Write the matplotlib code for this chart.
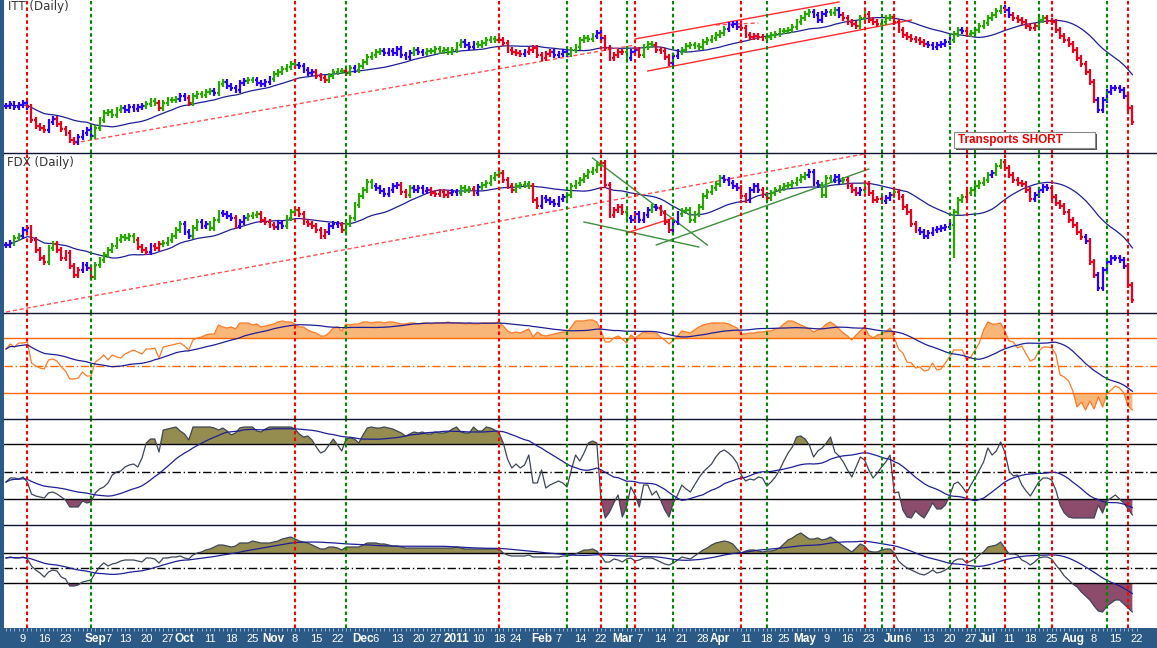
import numpy as np
import pandas as pd
import matplotlib
matplotlib.use("Agg")
from matplotlib import pyplot as plt
from matplotlib.collections import LineCollection
from matplotlib.patches import Rectangle
from matplotlib.lines import Line2D

# trading calendar (Aug 2010 - Aug 2011)
holidays = ["2010-09-06", "2010-11-25", "2010-12-24", "2011-01-17",
            "2011-02-21", "2011-04-22", "2011-05-30", "2011-07-04"]
days = pd.bdate_range("2010-08-03", "2011-08-22", freq="C", holidays=holidays)
pos = {d.strftime("%Y-%m-%d"): i for i, d in enumerate(days)}

# ITT closes (arbitrary units)
itt = [54, 56, 53, 55, 57, 53, 40, 34, 32, 30,
       38, 41, 36, 31, 27, 20, 18, 23, 27, 30,
       24, 32, 40, 47, 48, 45, 50, 52, 50, 53,
       51, 53, 54, 56, 59, 57, 52, 57, 60, 60,
       61, 64, 62, 57, 64, 66, 65, 68, 69, 67,
       76, 78, 74, 72, 70, 77, 79, 80, 80, 77,
       76, 78, 81, 86, 88, 91, 93, 96, 95, 94,
       90, 87, 88, 84, 82, 80, 84, 88, 89, 89,
       87, 92, 90, 94, 98, 103, 105, 108, 109, 107,
       109, 107, 111, 105, 103, 107, 110, 108, 107, 109,
       109, 111, 109, 110, 108, 110, 115, 118, 115, 113,
       116, 115, 117, 120, 121, 120, 120, 117, 110, 108,
       107, 106, 108, 110, 112, 105, 102, 106, 108, 105,
       106, 108, 106, 110, 113, 120, 122, 121, 124, 127,
       122, 112, 102, 105, 108, 108, 102, 108, 110, 105,
       113, 116, 115, 110, 109, 103, 97, 104, 108, 110,
       114, 115, 114, 113, 118, 120, 122, 125, 127, 131,
       135, 136, 133, 132, 125, 123, 124, 123, 122, 123,
       125, 126, 129, 129, 130, 133, 138, 142, 146, 148,
       145, 140, 146, 148, 147, 150, 145, 142, 138, 136,
       134, 142, 146, 140, 138, 136, 138, 142, 143, 138,
       130, 125, 123, 121, 120, 118, 116, 115, 113, 115,
       116, 118, 120, 126, 130, 129, 126, 127, 130, 134,
       137, 142, 145, 149, 152, 150, 145, 142, 140, 138,
       134, 132, 134, 140, 142, 139, 138, 130, 124, 120,
       116, 110, 102, 96, 88, 78, 60, 50, 60, 68,
       72, 72, 70, 64, 52, 38]
itt_colors = ("bbbbbbrrrr" "bbrrrrrbbb" "bgggggggbb" "bbbgggrggg" "gbbrgggggb"
              "ggbbbbbggb" "bbbggggggb" "bbbrrrgggg" "rgbggggggb" "bbbbbbgbbg"
              "ggggggggbb" "bgggggrrrr" "rrbrrrrrrb" "bbbggggggb" "brrrrrgbbr"
              "gggrrrrbbg" "gggggggggg" "bbbrrrrrrg" "gggggggggg" "bbbbggbrrr"
              "rggrrrgggr" "rrrrrrrbbb" "bbbggbrggg" "gggggbbrrr" "rrrggrrrrr"
              "rrrrrrrbbb" "bbbbrr")

# FDX closes
fdx = [75, 77, 82, 84, 90, 92, 80, 70, 62, 58,
       72, 76, 70, 62, 67, 54, 45, 50, 55, 52,
       43, 55, 60, 65, 70, 74, 80, 83, 82, 84,
       80, 73, 70, 68, 74, 72, 76, 77, 80, 84,
       90, 96, 88, 84, 92, 98, 94, 96, 92, 100,
       107, 106, 104, 102, 94, 98, 102, 104, 105, 106,
       100, 98, 95, 93, 97, 94, 102, 108, 110, 106,
       98, 96, 94, 90, 84, 88, 94, 96, 95, 90,
       96, 102, 115, 124, 130, 138, 134, 132, 129, 126,
       130, 134, 135, 128, 125, 132, 130, 132, 129, 130,
       127, 126, 128, 125, 127, 128, 127, 132, 130, 131,
       127, 133, 135, 137, 142, 145, 147, 140, 134, 130,
       134, 135, 136, 134, 120, 114, 122, 120, 118, 116,
       121, 123, 125, 134, 137, 140, 144, 148, 150, 155,
       157, 135, 105, 110, 113, 108, 102, 100, 106, 100,
       105, 110, 113, 112, 107, 98, 90, 98, 106, 109,
       110, 100, 106, 113, 124, 128, 132, 136, 142, 140,
       137, 134, 132, 124, 120, 130, 134, 130, 125, 122,
       127, 130, 132, 134, 135, 137, 140, 143, 145, 148,
       137, 135, 125, 142, 140, 143, 139, 140, 134, 130,
       127, 130, 136, 127, 120, 121, 119, 122, 125, 128,
       123, 113, 108, 96, 90, 88, 84, 87, 90, 91,
       92, 93, 95, 108, 120, 123, 127, 130, 134, 137,
       140, 145, 147, 154, 158, 152, 145, 140, 137, 136,
       130, 121, 125, 130, 133, 132, 123, 117, 114, 108,
       100, 95, 88, 83, 79, 58, 45, 32, 50, 58,
       62, 62, 60, 54, 35, 20]
fdx_colors = ("bbggbbrrrr" "ggrrrrrrbb" "rggggggggg" "grrrbrrggg" "ggbbggbbgg"
              "gbbbrbbggg" "rrrrbbgggr" "rrrrrrbbbr" "gggggggbbb" "bbbrrgbbbb"
              "rrrrrbbggg" "rbgggggrrr" "ggggrrbbbb" "bbgggggggg" "grrrrrgbbb"
              "bbgbrrrbbg" "gggggggggb" "bbbrrbbbrr" "gggggggggb" "bbgggbbgrr"
              "rbgrrrrbbg" "rrrrrbbbbb" "bbbgggrggg" "ggbggrrrrr" "rrbbbbrrrr"
              "rrrrbrrbbb" "bbbbrr")
fdx_lows = {"2011-06-21": 62}

# indicator panes
rsi = [70, 75, 72, 76, 76, 77, 56, 53, 51, 50,
       59, 60, 58, 52, 48, 40, 40, 41, 47, 43,
       43, 57, 60, 64, 59, 64, 62, 61, 65, 67,
       69, 67, 65, 70, 70, 71, 61, 72, 73, 74,
       75, 76, 73, 69, 79, 81, 82, 84, 85, 85,
       94, 92, 91, 92, 90, 96, 96, 96, 94, 95,
       92, 93, 94, 95, 97, 98, 97, 97, 95, 92,
       92, 89, 87, 86, 83, 83, 86, 91, 92, 88,
       95, 94, 95, 95, 97, 97, 96, 97, 97, 96,
       97, 97, 96, 95, 95, 96, 96, 95, 96, 96,
       95, 96, 96, 96, 97, 96, 96, 96, 95, 96,
       95, 95, 96, 96, 96, 96, 97, 93, 88, 86,
       87, 86, 88, 90, 82, 87, 84, 83, 84, 85,
       86, 87, 87, 92, 98, 98, 98, 99, 99, 97,
       88, 77, 77, 81, 83, 80, 76, 84, 81, 84,
       87, 86, 86, 86, 82, 79, 75, 79, 83, 88,
       87, 86, 89, 92, 94, 95, 96, 96, 96, 96,
       95, 93, 91, 85, 85, 86, 86, 87, 87, 88,
       88, 90, 91, 95, 98, 98, 96, 94, 92, 90,
       87, 89, 91, 95, 97, 94, 90, 86, 83, 79,
       84, 88, 92, 84, 81, 84, 85, 87, 91, 81,
       70, 66, 57, 56, 51, 52, 48, 49, 56, 49,
       50, 56, 62, 69, 69, 69, 59, 62, 69, 76,
       89, 97, 95, 95, 96, 88, 78, 77, 71, 73,
       65, 58, 60, 68, 72, 72, 71, 65, 44, 42,
       38, 28, 12, 17, 9, 18, 10, 22, 12, 25,
       29, 33, 31, 26, 13, 9]
fast = [43, 47, 47, 46, 48, 43, 31, 29, 28, 27,
        32, 33, 31, 28, 25, 18, 18, 18, 24, 22,
        23, 32, 36, 38, 42, 50, 53, 54, 58, 60,
        61, 58, 67, 82, 86, 86, 73, 95, 96, 97,
        98, 94, 91, 85, 98, 98, 98, 98, 98, 97,
        95, 97, 94, 90, 92, 97, 98, 98, 98, 94,
        93, 96, 98, 98, 98, 98, 98, 98, 96, 91,
        88, 89, 85, 78, 72, 74, 80, 86, 80, 74,
        86, 87, 86, 82, 90, 97, 98, 97, 97, 98,
        97, 96, 94, 92, 89, 91, 93, 92, 93, 91,
        91, 93, 92, 92, 93, 96, 98, 93, 92, 92,
        98, 94, 94, 98, 97, 95, 92, 82, 66, 57,
        61, 57, 60, 70, 42, 42, 55, 37, 40, 42,
        44, 42, 38, 55, 70, 64, 72, 82, 84, 82,
        25, 7, 13, 22, 30, 8, 18, 38, 30, 18,
        40, 40, 30, 34, 25, 15, 8, 22, 30, 40,
        36, 33, 40, 47, 53, 57, 61, 68, 73, 75,
        72, 68, 62, 50, 44, 46, 45, 48, 47, 39,
        43, 48, 55, 64, 72, 78, 88, 89, 86, 80,
        68, 74, 77, 82, 88, 73, 69, 63, 55, 48,
        58, 68, 65, 55, 47, 52, 58, 63, 70, 32,
        33, 15, 8, 7, 14, 10, 7, 14, 22, 16,
        16, 20, 29, 41, 43, 38, 32, 40, 47, 55,
        63, 77, 70, 74, 83, 73, 54, 49, 50, 40,
        34, 29, 36, 43, 47, 47, 45, 35, 20, 12,
        8, 7, 7, 7, 7, 7, 7, 20, 12, 24,
        27, 30, 26, 22, 16, 10]
slow = [70, 71, 70, 70, 71, 69, 62, 58, 55, 51,
        56, 58, 57, 51, 49, 42, 42, 43, 46, 47,
        48, 55, 61, 65, 62, 64, 65, 67, 68, 68,
        68, 67, 66, 70, 70, 69, 65, 70, 70, 71,
        71, 72, 70, 69, 73, 75, 76, 78, 79, 81,
        83, 83, 82, 81, 82, 85, 85, 85, 87, 86,
        85, 85, 85, 86, 87, 89, 90, 91, 89, 87,
        86, 85, 83, 81, 79, 79, 81, 81, 80, 78,
        81, 81, 81, 81, 83, 85, 85, 85, 84, 84,
        83, 82, 82, 81, 80, 80, 80, 80, 80, 80,
        80, 80, 80, 80, 80, 80, 81, 80, 79, 79,
        79, 79, 79, 79, 79, 79, 79, 75, 73, 72,
        72, 72, 72, 73, 71, 71, 71, 71, 71, 71,
        71, 72, 72, 73, 74, 76, 78, 78, 79, 77,
        72, 66, 66, 69, 68, 66, 69, 70, 67, 68,
        70, 70, 70, 68, 66, 64, 63, 65, 68, 71,
        70, 69, 72, 75, 78, 80, 83, 85, 86, 87,
        86, 84, 79, 75, 77, 78, 78, 77, 76, 77,
        77, 78, 80, 84, 88, 90, 93, 95, 92, 89,
        89, 90, 88, 89, 91, 88, 85, 82, 79, 76,
        80, 84, 82, 77, 76, 76, 78, 79, 79, 75,
        67, 63, 60, 58, 56, 54, 53, 55, 58, 55,
        56, 58, 61, 67, 69, 69, 65, 67, 69, 73,
        76, 81, 82, 83, 86, 80, 74, 74, 73, 68,
        66, 63, 66, 70, 71, 71, 69, 63, 58, 52,
        48, 44, 41, 36, 32, 28, 22, 17, 16, 22,
        25, 28, 28, 24, 20, 16]

rsi_levels = (26, 53, 81)
fast_levels = (26, 53, 81)
slow_levels = (45, 60, 75)

red_events = ["2010-08-10", "2010-11-08", "2011-01-18", "2011-02-22", "2011-03-04",
              "2011-04-08", "2011-05-20", "2011-06-01", "2011-06-24", "2011-07-08",
              "2011-07-25", "2011-08-18"]
green_events = ["2010-08-31", "2010-11-24", "2011-02-09", "2011-03-02", "2011-03-17",
                "2011-04-18", "2011-05-26", "2011-06-20", "2011-06-28", "2011-07-20",
                "2011-08-11"]

# trend lines: (start date, value, end date, value, colour, style)
itt_lines = [("2010-08-25", 17, "2011-03-04", 115, "#ff5050", "dash"),
             ("2011-03-31", 135, "2011-04-14", 137, "#ff5050", "dash"),
             ("2011-03-04", 121, "2011-05-12", 158, "#ff2a2a", "solid"),
             ("2011-03-09", 89, "2011-06-07", 140, "#ff2a2a", "solid")]
fdx_lines = [("2010-08-03", 8, "2011-05-27", 170, "#ff5050", "dash"),
             ("2011-02-17", 162, "2011-03-29", 75, "#3d8f3d", "solid"),
             ("2011-02-15", 98, "2011-03-25", 73, "#3d8f3d", "solid"),
             ("2011-03-02", 87, "2011-03-17", 102, "#ff2a2a", "solid"),
             ("2011-03-11", 75, "2011-05-23", 151, "#3d8f3d", "solid")]

# date axis labels: (date, text, month start)
date_ticks = [("2010-08-09", "9", 0), ("2010-08-16", "16", 0), ("2010-08-23", "23", 0),
              ("2010-09-01", "Sep", 1), ("2010-09-07", "7", 0), ("2010-09-13", "13", 0),
              ("2010-09-20", "20", 0), ("2010-09-27", "27", 0), ("2010-10-01", "Oct", 1),
              ("2010-10-11", "11", 0), ("2010-10-18", "18", 0), ("2010-10-25", "25", 0),
              ("2010-11-01", "Nov", 1), ("2010-11-08", "8", 0), ("2010-11-15", "15", 0),
              ("2010-11-22", "22", 0), ("2010-12-01", "Dec", 1), ("2010-12-06", "6", 0),
              ("2010-12-13", "13", 0), ("2010-12-20", "20", 0), ("2010-12-27", "27", 0),
              ("2011-01-03", "2011", 1), ("2011-01-10", "10", 0), ("2011-01-18", "18", 0),
              ("2011-01-24", "24", 0), ("2011-02-01", "Feb", 1), ("2011-02-07", "7", 0),
              ("2011-02-14", "14", 0), ("2011-02-22", "22", 0), ("2011-03-01", "Mar", 1),
              ("2011-03-07", "7", 0), ("2011-03-14", "14", 0), ("2011-03-21", "21", 0),
              ("2011-03-28", "28", 0), ("2011-04-01", "Apr", 1), ("2011-04-11", "11", 0),
              ("2011-04-18", "18", 0), ("2011-04-25", "25", 0), ("2011-05-02", "May", 1),
              ("2011-05-09", "9", 0), ("2011-05-16", "16", 0), ("2011-05-23", "23", 0),
              ("2011-06-01", "Jun", 1), ("2011-06-06", "6", 0), ("2011-06-13", "13", 0),
              ("2011-06-20", "20", 0), ("2011-06-27", "27", 0), ("2011-07-01", "Jul", 1),
              ("2011-07-11", "11", 0), ("2011-07-18", "18", 0), ("2011-07-25", "25", 0),
              ("2011-08-01", "Aug", 1), ("2011-08-08", "8", 0), ("2011-08-15", "15", 0),
              ("2011-08-22", "22", 0)]

BAR_COL = {"g": "#26a800", "b": "#2a00ff", "r": "#e8001c"}
MA_COL = "#1e1e96"
STRIP = "#2c5a86"
W, H = 1157, 648
XLIM = (-0.47, 270.8)


def band(top, bottom):
    return [4 / W, 1 - bottom / H, 1 - 4 / W, (bottom - top) / H]


def draw_bars(ax, closes, codes, lows=None):
    c = np.asarray(closes, float)
    o = np.r_[c[0], c[:-1]]
    hi = np.maximum(o, c) + 3
    lo = np.minimum(o, c) - 3
    if lows:
        for d, v in lows.items():
            lo[pos[d]] = v
    segs, cols = [], []
    for i in range(len(c)):
        col = BAR_COL[codes[i]]
        segs += [[(i, lo[i]), (i, hi[i])], [(i - 0.45, o[i]), (i, o[i])],
                 [(i, c[i]), (i + 0.45, c[i])]]
        cols += [col] * 3
    ax.add_collection(LineCollection(segs, colors=cols, linewidths=1.6, zorder=4))
    ma = pd.Series(c).rolling(20, min_periods=1).mean()
    ax.plot(np.arange(len(c)), ma, color=MA_COL, lw=0.9, zorder=3)


def draw_trends(ax, lines):
    for d0, v0, d1, v1, col, style in lines:
        ls = (0, (3, 2)) if style == "dash" else "-"
        ax.plot([pos[d0], pos[d1]], [v0, v1], color=col, lw=1.0, ls=ls, zorder=3)


def draw_osc(ax, vals, levels, line_col, up_fill, dn_fill, level_col):
    v = np.asarray(vals, float)
    x = np.arange(len(v))
    lo, mid, up = levels
    for lv in (lo, up):
        ax.axhline(lv, color=level_col, lw=1.0, zorder=2)
    ax.axhline(mid, color=level_col, lw=1.0, ls=(0, (6, 2, 1, 2)), zorder=2)
    ax.fill_between(x, v, up, where=v > up, interpolate=True, color=up_fill, lw=0, zorder=1)
    ax.fill_between(x, v, lo, where=v < lo, interpolate=True, color=dn_fill, lw=0, zorder=1)
    ax.plot(x, v, color=line_col, lw=0.9, zorder=3)
    ma = pd.Series(v).rolling(20, min_periods=1).mean()
    ax.plot(x, ma, color=MA_COL, lw=0.9, zorder=3)


fig = plt.figure(figsize=(W / 100, H / 100), dpi=100, facecolor=STRIP)
ax_itt = fig.add_axes(band(0, 153))
ax_fdx = fig.add_axes(band(153, 313), sharex=ax_itt)
ax_rsi = fig.add_axes(band(313, 419), sharex=ax_itt)
ax_fast = fig.add_axes(band(419, 525), sharex=ax_itt)
ax_slow = fig.add_axes(band(525, 628), sharex=ax_itt)
ax_date = fig.add_axes(band(628, 648), sharex=ax_itt)
panes = [ax_itt, ax_fdx, ax_rsi, ax_fast, ax_slow]

draw_bars(ax_itt, itt, itt_colors)
draw_bars(ax_fdx, fdx, fdx_colors, fdx_lows)
draw_trends(ax_itt, itt_lines)
draw_trends(ax_fdx, fdx_lines)
draw_osc(ax_rsi, rsi, rsi_levels, "#ff7a26", "#f9b679", "#f9b679", "#ff6a00")
draw_osc(ax_fast, fast, fast_levels, "#3c4656", "#958c50", "#8e4c6d", "#000000")
draw_osc(ax_slow, slow, slow_levels, "#3c4656", "#958c50", "#8e4c6d", "#000000")

ax_itt.set_ylim(7, 160)
ax_fdx.set_ylim(7, 167)
ax_rsi.set_ylim(0, 106)
ax_fast.set_ylim(0, 106)
ax_slow.set_ylim(0, 103)

for ax in panes:
    ax.set_facecolor("white")
    ax.set_xlim(*XLIM)
    ax.set_xticks([])
    ax.set_yticks([])
    for s in ax.spines.values():
        s.set_visible(False)
    for d in red_events:
        ax.axvline(pos[d], color="#ff0000", lw=1.5, ls=(0, (1.7, 1.4)), zorder=5)
    for d in green_events:
        ax.axvline(pos[d], color="#008a00", lw=1.5, ls=(0, (1.7, 1.4)), zorder=5)

# pane separators drawn on top of everything
for y in (153, 313, 419, 525):
    fig.lines.append(Line2D([4 / W, 1], [1 - y / H, 1 - y / H], transform=fig.transFigure,
                            color="#0c1430", lw=1.0, zorder=10))

# date strip
ax_date.set_facecolor(STRIP)
ax_date.set_xlim(*XLIM)
ax_date.set_ylim(0, 1)
for s in ax_date.spines.values():
    s.set_visible(False)
ax_date.set_yticks([])
ax_date.set_xticks(np.arange(len(days)), minor=True)
ax_date.set_xticks([])
ax_date.tick_params(which="minor", direction="in", top=True, bottom=False,
                    length=2, width=0.6, color="#a9c3dc")
for d, txt, month in date_ticks:
    ax_date.text(pos[d], 0.45, txt, color="white", ha="center", va="center",
                 fontsize=8.5 if month else 8, fontweight="bold" if month else "normal",
                 family="Liberation Sans")

# pane titles and note
fig.text(8 / W, 1 - 10 / H, "ITT (Daily)", fontsize=8.5, color="#333333", va="baseline")
fig.text(7 / W, 1 - 166 / H, "FDX (Daily)", fontsize=8.5, color="#333333", va="baseline")
fig.patches.append(Rectangle((956 / W, 1 - 150 / H), 141 / W, 16 / H,
                             transform=fig.transFigure, fc="#505050", ec="none", zorder=6))
fig.patches.append(Rectangle((954 / W, 1 - 148 / H), 141 / W, 16 / H,
                             transform=fig.transFigure, fc="white", ec="#8a8a8a", lw=0.8, zorder=7))
fig.text(958 / W, 1 - 140 / H, "Transports SHORT", fontsize=8.5, color="#ee0000",
         fontweight="bold", va="center", family="Liberation Sans", zorder=8)

fig.savefig("out.png", dpi=100, facecolor=STRIP)
